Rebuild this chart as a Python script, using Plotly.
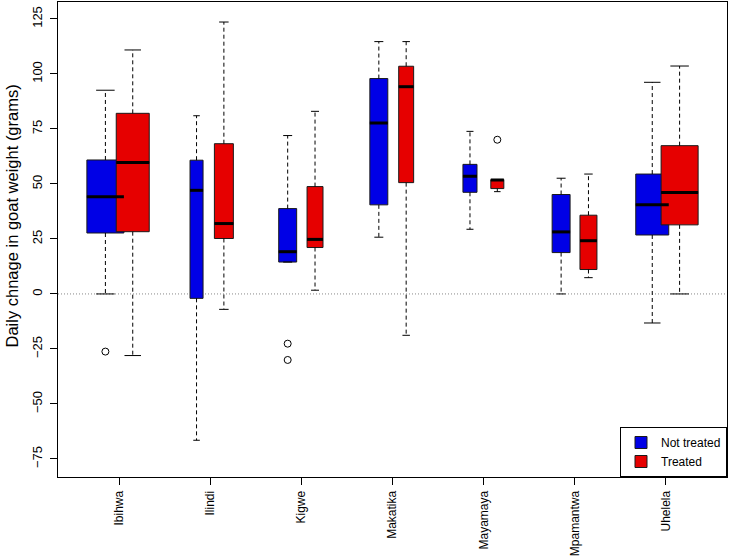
import plotly.graph_objects as go

# ---------------- data ----------------
villages = ["Ibihwa", "Ilindi", "Kigwe", "Makatika", "Mayamaya", "Mpamantwa", "Uhelela"]

nt_lower = [0.0, -66.5, 14.5, 25.8, 29.4, 0.0, -13.2]
nt_q1 = [27.7, -2.0, 14.5, 40.5, 46.2, 18.8, 26.8]
nt_median = [44.2, 47.1, 19.2, 77.7, 53.5, 28.2, 40.6]
nt_q3 = [60.9, 60.8, 38.8, 97.9, 58.9, 45.2, 54.5]
nt_upper = [92.6, 81.0, 72.0, 114.7, 73.9, 52.6, 96.2]
nt_outliers = [[-26.2], [], [-22.6, -30.0], [], [], [], []]

tr_lower = [-28.0, -7.0, 1.7, -18.8, 46.5, 7.4, 0.0]
tr_q1 = [28.3, 25.2, 21.1, 50.6, 47.9, 11.1, 31.4]
tr_median = [59.7, 32.0, 24.8, 94.2, 51.8, 24.2, 46.1]
tr_q3 = [82.1, 68.3, 48.8, 103.5, 52.0, 35.8, 67.4]
tr_upper = [110.9, 123.6, 83.0, 114.7, 52.0, 54.5, 103.6]
tr_outliers = [[], [], [], [], [70.1], [], []]

y_ticks = [-75, -50, -25, 0, 25, 50, 75, 100, 125]
y_title = "Daily chnage in goat weight (grams)"

# ---------------- styling ----------------
nt_widths = [0.406, 0.143, 0.197, 0.197, 0.154, 0.197, 0.362]
tr_widths = [0.362, 0.208, 0.175, 0.164, 0.143, 0.186, 0.406]
offset = 0.15
BLUE = "#0000E6"
RED = "#E60000"
FONT = "Liberation Sans, Arial, Helvetica, sans-serif"

fig = go.Figure()

groups = [
    ("Not treated", BLUE, -offset, nt_lower, nt_q1, nt_median, nt_q3, nt_upper, nt_outliers, nt_widths),
    ("Treated", RED, offset, tr_lower, tr_q1, tr_median, tr_q3, tr_upper, tr_outliers, tr_widths),
]

for name, color, off, lo, q1, med, q3, hi, outs, widths in groups:
    for i, v in enumerate(villages):
        pos = i + off
        w = widths[i]
        # box body
        fig.add_trace(go.Box(
            x=[pos], q1=[q1[i]], median=[med[i]], q3=[q3[i]],
            lowerfence=[q1[i]], upperfence=[q3[i]],
            width=w, fillcolor=color,
            line=dict(color="#1a1a1a", width=1),
            whiskerwidth=0, boxpoints=False,
            name=name, legendgroup=name, showlegend=(i == 0),
            hoverinfo="skip",
        ))
        # thick median
        fig.add_trace(go.Scatter(
            x=[pos - w / 2, pos + w / 2], y=[med[i], med[i]], mode="lines",
            line=dict(color="black", width=3), showlegend=False, hoverinfo="skip",
        ))
        # dashed whiskers
        fig.add_trace(go.Scatter(
            x=[pos, pos, None, pos, pos], y=[q3[i], hi[i], None, q1[i], lo[i]],
            mode="lines", line=dict(color="black", width=1, dash="4px,3px"),
            showlegend=False, hoverinfo="skip",
        ))
        # staples
        fig.add_trace(go.Scatter(
            x=[pos - w / 4, pos + w / 4, None, pos - w / 4, pos + w / 4],
            y=[hi[i], hi[i], None, lo[i], lo[i]],
            mode="lines", line=dict(color="black", width=1),
            showlegend=False, hoverinfo="skip",
        ))
        # outliers
        if outs[i]:
            fig.add_trace(go.Scatter(
                x=[pos] * len(outs[i]), y=outs[i], mode="markers",
                marker=dict(symbol="circle-open", size=7, color="black", line=dict(width=1)),
                showlegend=False, hoverinfo="skip",
            ))

fig.add_hline(y=0, line=dict(color="#888888", width=1, dash="1px,2px"), layer="below")

fig.add_annotation(
    text=y_title, xref="paper", yref="paper", x=-58 / 669, y=(477 - 216.5) / 475,
    xanchor="left", yanchor="middle", textangle=-90, showarrow=False,
    font=dict(size=16.5, color="black", family=FONT), xshift=0,
)

fig.update_layout(
    width=729, height=560,
    margin=dict(l=58, r=2, t=2, b=83),
    paper_bgcolor="white", plot_bgcolor="white",
    font=dict(family=FONT, size=13, color="black"),
    showlegend=True,
    legend=dict(
        x=1, y=0, xanchor="right", yanchor="bottom",
        bgcolor="white", bordercolor="black", borderwidth=1,
        font=dict(size=12), tracegroupgap=0, itemwidth=30,
    ),
    xaxis=dict(
        range=[-0.67, 6.67], tickmode="array",
        tickvals=list(range(len(villages))), ticktext=villages,
        tickangle=-90, ticks="outside", ticklen=7, tickcolor="black",
        tickfont=dict(size=12), ticklabelstandoff=1,
        showline=True, linecolor="black", linewidth=1, mirror=True,
        showgrid=False, zeroline=False, automargin=False,
    ),
    yaxis=dict(
        range=[-83.2, 132.7], tickmode="array", tickvals=y_ticks,
        tickangle=-90, ticks="outside", ticklen=7, tickcolor="black",
        tickfont=dict(size=13), ticklabelstandoff=3,
        showline=True, linecolor="black", linewidth=1, mirror=True,
        showgrid=False, zeroline=False, automargin=False,
    ),
)

fig.write_html(
    "out.html",
    config={"displayModeBar": False},
    post_script="document.body.style.margin='0px';",
)
